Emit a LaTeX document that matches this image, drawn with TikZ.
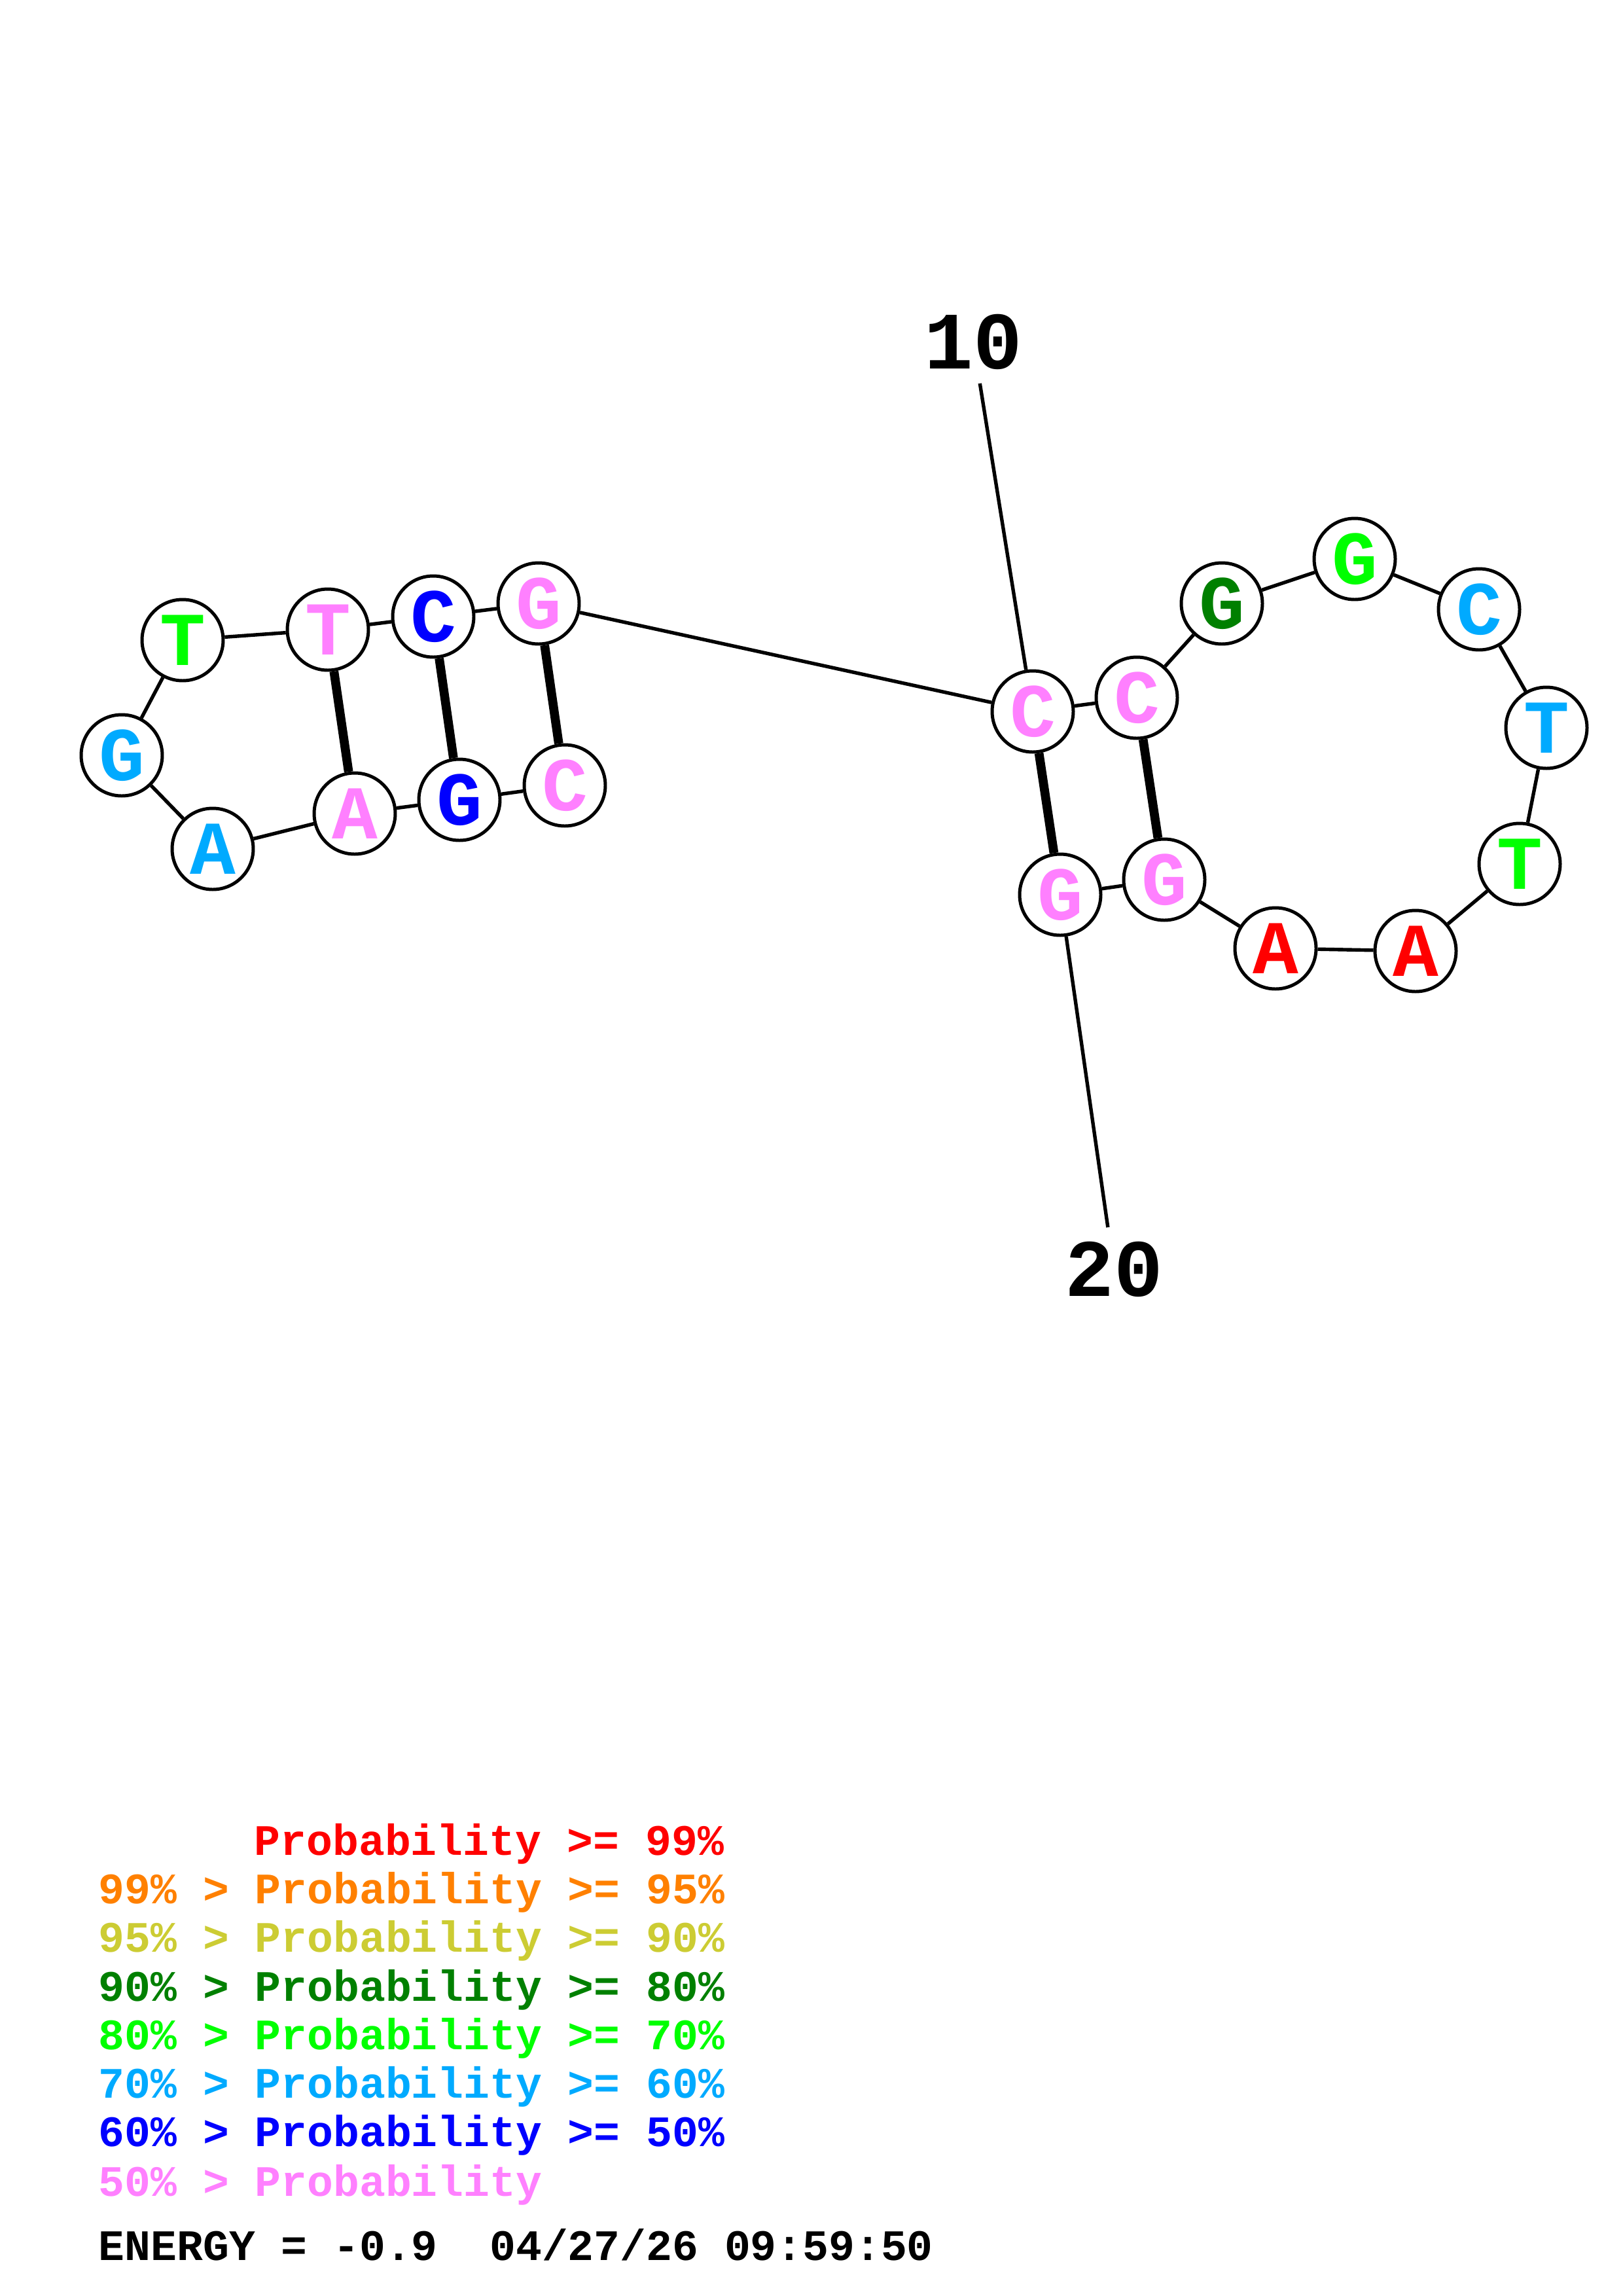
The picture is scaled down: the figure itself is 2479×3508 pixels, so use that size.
\documentclass[tikz,border=0pt]{standalone}
\usepackage{fontspec}
\setmonofont{Liberation Mono}
\definecolor{pr99}{RGB}{255,0,0}
\definecolor{pr95}{RGB}{255,128,0}
\definecolor{pr90}{RGB}{204,204,51}
\definecolor{pr80}{RGB}{0,128,0}
\definecolor{pr70}{RGB}{0,255,0}
\definecolor{pr60}{RGB}{0,170,255}
\definecolor{pr50}{RGB}{0,0,255}
\definecolor{prlow}{RGB}{255,128,255}
\begin{document}
\begin{tikzpicture}[x=0.008471cm,y=-0.008471cm,
    base/.style={circle,draw,line width=1.2pt,fill=white,minimum size=1.05cm,inner sep=0pt,
      font=\ttfamily\bfseries\fontsize{28}{28}\selectfont},
    bb/.style={line width=1.3pt},
    pair/.style={line width=3.3pt},
    num/.style={inner sep=5pt,font=\ttfamily\bfseries\fontsize{30}{30}\selectfont},
    key/.style={anchor=base west,inner sep=0pt,font=\ttfamily\bfseries\fontsize{16}{16}\selectfont}]
  \useasboundingbox (0,0) rectangle (2479,3508);
  % bases
  \node[base,text=prlow] (n1) at (863,1200) {C};
  \node[base,text=pr50] (n2) at (702,1222) {G};
  \node[base,text=prlow] (n3) at (542,1243) {A};
  \node[base,text=pr60] (n4) at (325,1297) {A};
  \node[base,text=pr60] (n5) at (186,1154) {G};
  \node[base,text=pr70] (n6) at (279,978) {T};
  \node[base,text=prlow] (n7) at (501,962) {T};
  \node[base,text=pr50] (n8) at (662,942) {C};
  \node[base,text=prlow] (n9) at (823,922) {G};
  \node[base,text=prlow] (n10) at (1578,1087) {C};
  \node[base,text=prlow] (n11) at (1737,1066) {C};
  \node[base,text=pr80] (n12) at (1867,922) {G};
  \node[base,text=pr70] (n13) at (2070,854) {G};
  \node[base,text=pr60] (n14) at (2260,931) {C};
  \node[base,text=pr60] (n15) at (2363,1112) {T};
  \node[base,text=pr70] (n16) at (2322,1320) {T};
  \node[base,text=pr99] (n17) at (2163,1453) {A};
  \node[base,text=pr99] (n18) at (1949,1449) {A};
  \node[base,text=prlow] (n19) at (1779,1344) {G};
  \node[base,text=prlow] (n20) at (1620,1367) {G};
  % numbering
  \node[num] (lab10) at (1487,522) {10};
  \node[num] (lab20) at (1702,1939) {20};
  \draw[bb] (n10) -- (lab10);
  \draw[bb] (n20) -- (lab20);
  % backbone
  \draw[bb] (n1) -- (n2);
  \draw[bb] (n2) -- (n3);
  \draw[bb] (n3) -- (n4);
  \draw[bb] (n4) -- (n5);
  \draw[bb] (n5) -- (n6);
  \draw[bb] (n6) -- (n7);
  \draw[bb] (n7) -- (n8);
  \draw[bb] (n8) -- (n9);
  \draw[bb] (n9) -- (n10);
  \draw[bb] (n10) -- (n11);
  \draw[bb] (n11) -- (n12);
  \draw[bb] (n12) -- (n13);
  \draw[bb] (n13) -- (n14);
  \draw[bb] (n14) -- (n15);
  \draw[bb] (n15) -- (n16);
  \draw[bb] (n16) -- (n17);
  \draw[bb] (n17) -- (n18);
  \draw[bb] (n18) -- (n19);
  \draw[bb] (n19) -- (n20);
  % pairs
  \draw[pair] (n1) -- (n9);
  \draw[pair] (n2) -- (n8);
  \draw[pair] (n3) -- (n7);
  \draw[pair] (n10) -- (n20);
  \draw[pair] (n11) -- (n19);
  % key
  \node[key,text=pr99] (k1) at (388,2834) {Probability >= 99\%};
  \node[key,text=pr95] (k2) at (150,2908) {99\% > Probability >= 95\%};
  \node[key,text=pr90] (k3) at (150,2982) {95\% > Probability >= 90\%};
  \node[key,text=pr80] (k4) at (150,3057) {90\% > Probability >= 80\%};
  \node[key,text=pr70] (k5) at (150,3131) {80\% > Probability >= 70\%};
  \node[key,text=pr60] (k6) at (150,3205) {70\% > Probability >= 60\%};
  \node[key,text=pr50] (k7) at (150,3279) {60\% > Probability >= 50\%};
  \node[key,text=prlow] (k8) at (150,3355) {50\% > Probability};
  \node[key] (energy) at (150,3453) {ENERGY = -0.9~~04/27/26 09:59:50};
\end{tikzpicture}
\end{document}
